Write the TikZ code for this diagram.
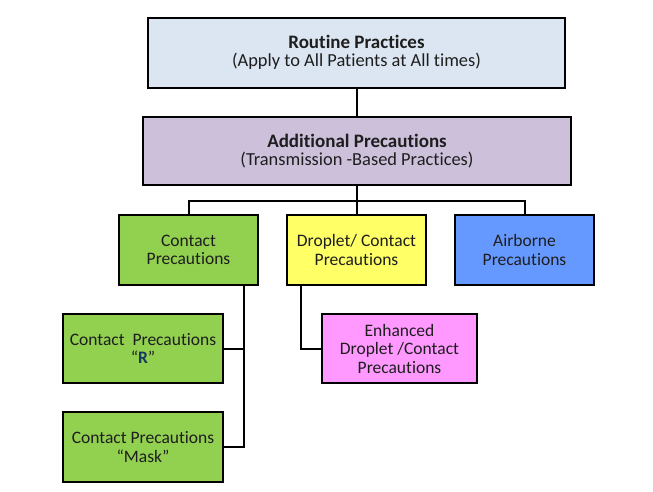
\documentclass[tikz,border=0pt]{standalone}
\usepackage{fontspec}
\setmainfont{Carlito}[Ligatures=NoCommon]
\definecolor{routinefill}{HTML}{DCE6F2}
\definecolor{addfill}{HTML}{CCC0DA}
\definecolor{greenfill}{HTML}{92D050}
\definecolor{yellowfill}{HTML}{FFFF66}
\definecolor{bluefill}{HTML}{6699FF}
\definecolor{pinkfill}{HTML}{FF99FF}
\definecolor{txt}{HTML}{1E1E1E}
\definecolor{rblue}{HTML}{17375E}
\begin{document}
\begin{tikzpicture}[x=1pt,y=-1pt,
  box/.style={draw=black, line width=2pt, inner sep=0pt, outer sep=0pt, align=center,
    text=txt, font=\fontsize{17.5}{18.5}\selectfont},
  conn/.style={draw=black, line width=2pt}]
\useasboundingbox[fill=white] (0,0) rectangle (653,491);
\node[box, fill=routinefill, minimum width=417pt, minimum height=70pt] (rout) at (356.5,52.5)
  {{\fontsize{19}{20}\selectfont\bfseries Routine Practices}\\{\fontsize{18.4}{20}\selectfont(Apply to All Patients at All times)}};
\node[box, fill=addfill, minimum width=428pt, minimum height=68pt] (add) at (357,151)
  {{\fontsize{19}{20}\selectfont\bfseries Additional Precautions}\\{\fontsize{18.4}{20}\selectfont(Transmission -Based Practices)}};
\node[box, fill=greenfill, minimum width=139pt, minimum height=70pt] (cont) at (188.5,250)
  {Contact\\Precautions};
\node[box, fill=yellowfill, minimum width=139pt, minimum height=70pt] (drop) at (356.5,250)
  {Droplet/ Contact\\Precautions};
\node[box, fill=bluefill, minimum width=139pt, minimum height=70pt] (air) at (524.5,250)
  {Airborne\\Precautions};
\node[box, fill=greenfill, minimum width=160pt, minimum height=69pt] (cr) at (143,348.5)
  {Contact\ \ Precautions\\“\textcolor{rblue}{\bfseries R}”};
\node[box, fill=greenfill, minimum width=160pt, minimum height=70pt] (cm) at (143,447)
  {Contact Precautions\\“Mask”};
\node[box, fill=pinkfill, minimum width=155pt, minimum height=69pt] (enh) at (399.5,348.5)
  {Enhanced\\Droplet /Contact\\Precautions};
\coordinate (bus) at (357,201);
\coordinate (cx) at (244,300);
\coordinate (dx) at (301,300);
\draw[conn] (rout.south) -- (add.south |- rout.south) -- (add.north);
\draw[conn] (add.south) -- (add.south |- bus);
\draw[conn] (cont.north) -- (cont.north |- bus) -- (air.north |- bus) -- (air.north);
\draw[conn] (drop.north) -- (drop.north |- bus);
\draw[conn] (cont.south -| cx) -- (cx |- cm.east) -- (cm.east);
\draw[conn] (cx |- cr.east) -- (cr.east);
\draw[conn] (drop.south -| dx) -- (dx |- enh.west) -- (enh.west);
\end{tikzpicture}
\end{document}
